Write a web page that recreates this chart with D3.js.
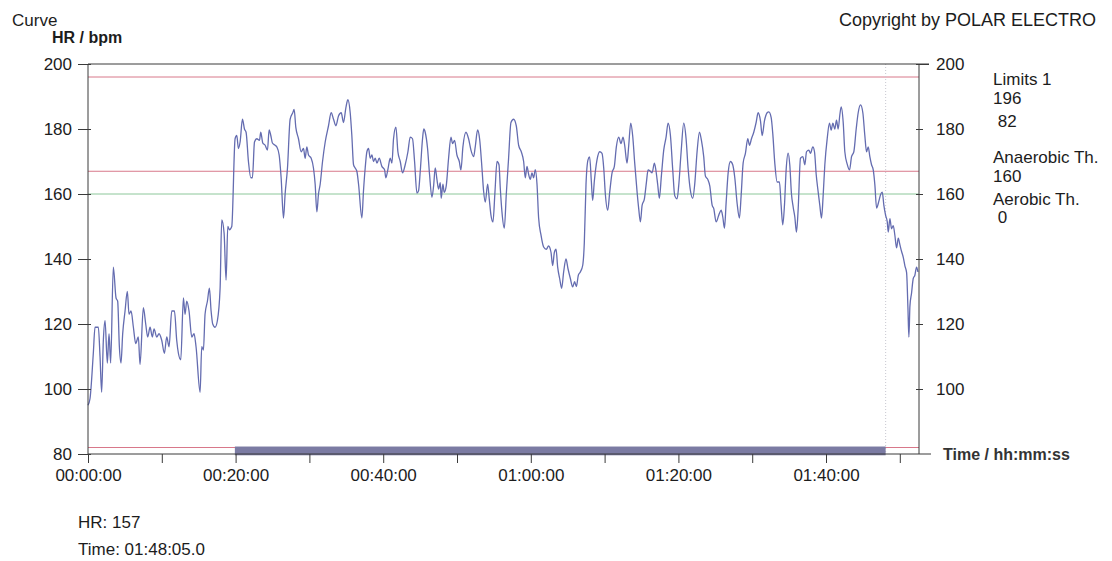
<!DOCTYPE html>
<html>
<head>
<meta charset="utf-8">
<script src="https://cdn.jsdelivr.net/npm/d3@7"></script>
<style>
  html, body { margin: 0; padding: 0; background: #fff; }
  svg text { font-family: "Liberation Sans", Arial, sans-serif; fill: #1c1c1c; }
</style>
</head>
<body>
<svg id="chart" width="1112" height="561"></svg>
<script>
// heart rate samples: [minutes, bpm]
const hrSamples = [
  [0,95],[0.27,97],[0.72,111],[0.95,119],[1.40,119],[1.63,110],[1.85,99],[2.08,115],[2.31,121],[2.62,108],
  [2.85,117],[3.07,108],[3.43,137.5],[3.80,128],[4.02,127],[4.25,113],[4.47,108],[4.70,117],[5.02,124],[5.33,130],
  [5.56,123],[5.83,124],[6.15,119],[6.46,114],[6.82,116],[7.05,107.5],[7.50,125],[7.82,120],[8.09,116],[8.41,119],
  [8.72,116],[8.95,118.5],[9.31,116],[9.63,117],[9.99,115],[10.35,111],[10.67,116],[10.98,113],[11.35,124],[11.71,124],
  [12.02,115],[12.25,111],[12.57,109],[12.93,128],[13.15,123],[13.38,127],[13.69,124],[14.06,116],[14.37,117],[14.64,113],
  [15.19,99],[15.41,113],[15.64,112],[15.86,123],[16.18,127],[16.45,131],[16.68,124],[16.90,120],[17.22,119],[17.53,121],
  [17.90,131],[18.12,152],[18.44,148],[18.71,133.5],[18.94,150],[19.16,149],[19.48,150],[19.93,177],[20.16,178],[20.38,174],
  [20.61,176],[20.93,183],[21.20,180],[21.42,179],[21.74,170],[22.06,165],[22.28,165],[22.56,176],[22.87,177],[23.23,176.5],
  [23.41,179],[23.68,175.7],[24.00,175],[24.32,173.5],[24.54,179.7],[24.77,178],[24.99,175.7],[25.36,175],[25.58,174.5],[25.90,172],
  [26.17,165],[26.49,152.6],[26.71,160],[27.03,168],[27.39,183],[27.75,185],[27.93,186],[28.16,180.5],[28.52,177],[28.88,173],
  [29.20,174],[29.42,171],[29.65,174.5],[29.88,172],[30.24,171],[30.55,168],[30.78,163],[31.01,154.5],[31.23,160],[31.46,163],
  [31.78,170],[32.14,176],[32.59,181],[32.95,185],[33.27,183],[33.59,181],[33.94,184],[34.31,185],[34.62,182],[34.94,186.5],
  [35.21,189],[35.53,185],[35.75,178],[35.98,169],[36.20,168],[36.43,167],[36.66,163],[37.11,152.6],[37.33,161],[37.56,168],
  [37.79,173],[38.01,174],[38.24,171],[38.47,172],[38.69,170],[38.92,171],[39.15,169.5],[39.46,171],[39.82,168.5],[40.18,167.5],
  [40.36,165],[40.63,167.5],[40.95,171],[41.18,169.5],[41.40,177],[41.72,180.6],[41.99,173],[42.31,170],[42.62,166.5],[42.98,169],
  [43.35,173],[43.66,177.5],[43.97,177],[44.25,170],[44.57,160.3],[44.79,161],[45.02,167],[45.33,177],[45.50,180],[45.69,179],
  [46.01,174],[46.28,166],[46.60,159],[46.83,162.5],[47.05,168],[47.28,164.5],[47.50,161.5],[47.73,163.5],[47.86,158.7],[48.09,163],
  [48.27,160.5],[48.54,162.5],[48.86,171],[49.18,177.5],[49.40,175.5],[49.67,176.5],[49.99,172],[50.31,170],[50.53,167.4],[50.80,174.5],
  [51.21,179],[51.57,177],[51.89,173.5],[52.25,171.5],[52.47,174.5],[52.79,179.7],[53.06,177],[53.38,168],[53.60,161],[53.83,157.5],
  [54.15,163],[54.37,158.5],[54.60,153.5],[54.87,151.4],[55.14,160.5],[55.42,170],[55.69,169],[55.86,162],[56.09,154.5],[56.41,149.5],
  [56.68,160],[56.99,171],[57.31,182],[57.67,183],[58.03,181],[58.35,175],[58.71,173],[59.03,170],[59.25,165],[59.48,168.5],
  [59.71,166],[59.93,164.5],[60.16,166.5],[60.38,165],[60.61,167.5],[60.84,163],[61.06,152.6],[61.38,147.4],[61.74,143.7],[62.10,143],
  [62.41,144],[62.74,142],[62.96,138],[63.19,142],[63.42,143],[63.64,137.5],[63.91,134],[64.18,131],[64.45,136],[64.77,140],
  [65.04,137],[65.36,134],[65.67,131.4],[65.94,133],[66.17,131.5],[66.44,135],[66.71,136],[67.03,138],[67.25,145],[67.48,163],
  [67.75,170.5],[67.97,171.4],[68.20,164],[68.38,158],[68.61,164],[68.97,170.5],[69.33,173],[69.65,172.5],[69.88,168],[70.10,160],
  [70.42,155],[70.69,160.5],[71.01,166.5],[71.32,168.5],[71.59,174.5],[71.91,177.5],[72.22,175.5],[72.50,177.5],[72.72,175],[73.04,169.5],
  [73.27,175],[73.54,181.8],[73.80,178],[74.08,169.5],[74.40,160.6],[74.62,155.5],[74.85,151.4],[75.08,156.5],[75.39,158.5],[75.66,163.5],
  [75.89,167.4],[76.20,167],[76.43,166.5],[76.75,169.5],[76.97,167],[77.19,163],[77.42,158.7],[77.69,165.5],[78.01,173.5],[78.33,177.5],
  [78.60,181.8],[78.92,178],[79.23,167.5],[79.50,159.5],[79.82,158.5],[80.04,162.5],[80.37,173],[80.72,181.8],[81.04,177],[81.31,168],
  [81.63,161],[81.94,158.7],[82.21,163],[82.53,173],[82.85,179],[83.12,176.5],[83.43,171.5],[83.66,165.5],[83.98,164.5],[84.25,162.5],
  [84.57,156.6],[84.79,155.5],[85.11,151.4],[85.47,153.5],[85.79,155],[86.01,153],[86.24,149.5],[86.47,157.5],[86.74,166.5],[87.05,170],
  [87.36,169],[87.64,165],[87.96,157],[88.27,152.6],[88.50,159.5],[88.77,169.5],[89.08,172.5],[89.40,177],[89.63,175],[89.90,177],
  [90.21,179],[90.53,182],[90.80,185],[91.12,182.5],[91.35,178],[91.66,182.5],[92.02,185],[92.25,185.3],[92.57,183.5],[92.79,178.5],
  [93.06,169.5],[93.38,163.7],[93.69,163.7],[93.92,156.5],[94.14,150.5],[94.37,156.5],[94.60,167.5],[94.87,172.6],[95.09,169],[95.32,160],
  [95.55,156],[95.77,153],[96.00,148.3],[96.23,155.5],[96.54,171],[96.86,171.5],[97.13,169],[97.36,173],[97.67,173.5],[97.90,172.5],
  [98.21,174.5],[98.44,173],[98.67,166],[98.94,160.6],[99.16,156.5],[99.39,152.6],[99.62,159.8],[99.84,169],[100.16,177],[100.47,181.8],
  [100.70,179.7],[100.93,181.8],[101.19,180],[101.42,182.7],[101.65,180],[101.87,184.3],[102.06,186.8],[102.33,182],[102.55,173],[102.87,169.2],
  [103.19,167.4],[103.46,171.5],[103.77,173],[104.09,180],[104.36,185],[104.68,187.4],[104.99,185],[105.26,178],[105.49,173],[105.72,174.5],
  [105.94,171.5],[106.17,169],[106.40,167.4],[106.62,162.8],[106.85,155.7],[107.16,157.8],[107.39,159.8],[107.62,160.6],[107.84,156.5],[108.07,153.5],
  [108.30,151.4],[108.43,148.3],[108.66,152.4],[108.88,149.3],[109.11,150.3],[109.33,147.3],[109.56,143.4],[109.79,146.4],[110.01,144.4],[110.24,142.3],
  [110.46,140.6],[110.69,137.9],[110.92,135.8],[111.10,125],[111.23,116],[111.37,125.5],[111.59,129.5],[111.82,134],[112.04,135],[112.27,137.5],
  [112.45,136]
];

const yTicks = [80, 100, 120, 140, 160, 180, 200];
const yTicksRight = [100, 120, 140, 160, 180, 200];
const xLabelTicks = [0, 20, 40, 60, 80, 100];          // minutes
const xMinorTicks = [0, 10, 20, 30, 40, 50, 60, 70, 80, 90, 100, 110];
const redLimits = [196, 167, 82];
const greenLimits = [160];
const legendLabels = ["Limits 1", "196", " 82", "Anaerobic Th.", "160", "Aerobic Th.", " 0"];
const selectedRange = [19.9, 108.08];                  // minutes
const cursorTime = 108.08;
const cursorLabel = "01:48:05.0";
const cursorHR = 157;
const timeEnd = 112.6;

const svg = d3.select('#chart');
const plotLeft = 88, plotRight = 919, plotTop = 64, plotBottom = 454;

const x = d3.scaleLinear().domain([0, timeEnd]).range([plotLeft, plotRight]);
const y = d3.scaleLinear().domain([80, 200]).range([plotBottom, plotTop]);

function hms(m) {
  var s = Math.round(m * 60);
  var hh = Math.floor(s / 3600), mm = Math.floor((s % 3600) / 60), ss = s % 60;
  return d3.format('02d')(hh) + ':' + d3.format('02d')(mm) + ':' + d3.format('02d')(ss);
}

// limit lines
svg.selectAll('.red').data(redLimits).enter().append('line')
  .attr('x1', plotLeft).attr('x2', plotRight)
  .attr('y1', d => y(d)).attr('y2', d => y(d))
  .attr('stroke', '#d8788a').attr('stroke-width', 1);
svg.selectAll('.green').data(greenLimits).enter().append('line')
  .attr('x1', plotLeft).attr('x2', plotRight)
  .attr('y1', d => y(d)).attr('y2', d => y(d))
  .attr('stroke', '#8cc79a').attr('stroke-width', 1);

// cursor
svg.append('line')
  .attr('x1', x(cursorTime)).attr('x2', x(cursorTime))
  .attr('y1', plotTop).attr('y2', plotBottom)
  .attr('stroke', '#c8c8d0').attr('stroke-width', 1).attr('stroke-dasharray', '1,2');

// curve
var line = d3.line().x(d => x(d[0])).y(d => y(d[1])).curve(d3.curveMonotoneX);
svg.append('path').datum(hrSamples)
  .attr('d', line)
  .attr('fill', 'none')
  .attr('stroke', '#646cb0')
  .attr('stroke-width', 1.3);

// selection bar on the time axis
svg.append('rect')
  .attr('x', x(selectedRange[0])).attr('width', x(selectedRange[1]) - x(selectedRange[0]))
  .attr('y', y(82.3)).attr('height', y(79.6) - y(82.3))
  .attr('fill', '#7b7ba3');

// frame
var frame = svg.append('g').attr('stroke', '#3a3a3a').attr('stroke-width', 1);
frame.append('line').attr('x1', plotLeft).attr('x2', plotRight + 10).attr('y1', plotTop).attr('y2', plotTop);
frame.append('line').attr('x1', plotLeft).attr('x2', plotRight + 12).attr('y1', plotBottom).attr('y2', plotBottom);

// left axis
var gl = svg.append('g').attr('transform', 'translate(' + plotLeft + ',0)')
  .call(d3.axisLeft(y).tickValues(yTicks).tickSize(6).tickPadding(10));
gl.selectAll('.tick line').attr('x2', -10).attr('x1', 3);
gl.selectAll('.tick text').style('font-size', '17px');

// right axis
var gr = svg.append('g').attr('transform', 'translate(' + plotRight + ',0)')
  .call(d3.axisRight(y).tickValues(yTicksRight).tickSize(6).tickPadding(11));
gr.selectAll('.tick line').attr('x1', -3).attr('x2', 4);
gr.selectAll('.tick text').style('font-size', '17px');
gr.selectAll('.tick').filter(d => d === 200).select('line').attr('x2', 10);

// bottom axis
var gb = svg.append('g').attr('transform', 'translate(0,' + plotBottom + ')')
  .call(d3.axisBottom(x).tickValues(xMinorTicks).tickSize(9)
    .tickFormat(d => xLabelTicks.indexOf(d) >= 0 ? hms(d) : '').tickPadding(6));
gb.select('.domain').remove();
gb.selectAll('.tick text').style('font-size', '17px');
gb.selectAll('.tick line').attr('stroke', '#3a3a3a');
[gl, gr].forEach(g => g.selectAll('.domain').attr('stroke', '#3a3a3a').attr('d', 'M0,' + plotTop + 'V' + plotBottom));
[gl, gr].forEach(g => g.selectAll('.tick line').attr('stroke', '#3a3a3a'));

// titles
svg.append('text').attr('x', 12).attr('y', 26).style('font-size', '17px').text('Curve');
svg.append('text').attr('x', 52).attr('y', 43).style('font-size', '16px').style('font-weight', 'bold').text('HR / bpm');
svg.append('text').attr('x', 1096).attr('y', 26).attr('text-anchor', 'end').style('font-size', '18px')
  .text('Copyright by POLAR ELECTRO');
svg.append('text').attr('x', 943).attr('y', 460).style('font-size', '16px').style('font-weight', 'bold')
  .style('fill', '#333').text('Time / hh:mm:ss');

// legend
var legendY = [85, 104, 127, 163, 182, 205, 223];
svg.selectAll('.legend').data(legendLabels).enter().append('text')
  .attr('x', 993).attr('y', (d, i) => legendY[i])
  .style('white-space', 'pre')
  .style('font-size', '17px')
  .text(d => d);

// cursor readout
svg.append('text').attr('x', 78).attr('y', 528).style('font-size', '17px').text('HR: ' + cursorHR);
svg.append('text').attr('x', 78).attr('y', 555).style('font-size', '17px').text('Time: ' + cursorLabel);
</script>
</body>
</html>
